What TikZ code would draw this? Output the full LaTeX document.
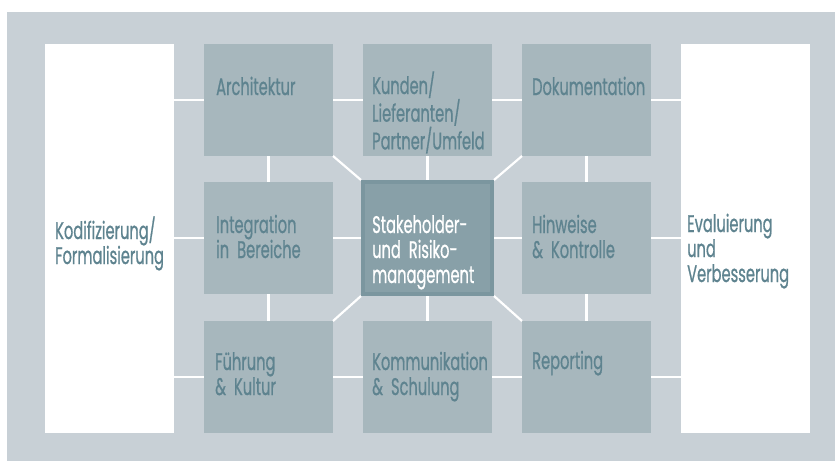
\documentclass[tikz,border=0pt]{standalone}
\usepackage{fontspec}
\setmainfont{Poppins}[FakeStretch=0.61, FakeBold=0.7]
\usepackage{tikz}
\usetikzlibrary{positioning}
\definecolor{bgGray}{RGB}{200,208,214}
\definecolor{boxGray}{RGB}{167,183,189}
\definecolor{midFill}{RGB}{136,160,168}
\definecolor{midRand}{RGB}{123,150,159}
\definecolor{txtBlau}{RGB}{94,131,143}
\begin{document}
\begin{tikzpicture}[x=1pt,y=-1pt,
	feld/.style={fill=boxGray, minimum width=129pt, minimum height=112pt, inner sep=0pt, outer sep=0pt, anchor=north west},
	seite/.style={fill=white, minimum width=129pt, minimum height=389pt, inner sep=0pt, outer sep=0pt, anchor=north west},
	mitte/.style={fill=midFill, draw=midRand, line width=4pt, minimum width=129pt, minimum height=112pt, inner sep=0pt, anchor=north west},
	txt/.style={text=txtBlau, anchor=base west, text width=130pt, align=left, inner sep=0pt, font=\fontsize{24}{25}\selectfont},
	verb/.style={draw=white, line width=2.2pt}]
				\useasboundingbox (0,0) rectangle (835,461);
				\fill[bgGray] (7,12) rectangle (835,461);
				\node[seite] (kodi) at (45,44) {};
				\node[seite] (eval) at (681,44) {};
				\node[feld] (arch) at (204,44) {};
				\node[feld] (kund) at (363,44) {};
				\node[feld] (doku) at (522,44) {};
				\node[feld] (integ) at (204,182) {};
				\node[mitte] (stake) at (361,180) {};
				\node[feld] (hinw) at (522,182) {};
				\node[feld] (fuehr) at (204,321) {};
				\node[feld] (komm) at (363,321) {};
				\node[feld] (repo) at (522,321) {};
				\draw[verb] (kodi.east |- arch.west) -- (arch.west);
				\draw[verb] (arch.east) -- (kund.west);
				\draw[verb] (kund.east) -- (doku.west);
				\draw[verb] (doku.east) -- (eval.west |- doku.east);
				\draw[verb] (kodi.east |- integ.west) -- (integ.west);
				\draw[verb] (integ.east) -- (stake.west);
				\draw[verb] (stake.east) -- (hinw.west);
				\draw[verb] (hinw.east) -- (eval.west |- hinw.east);
				\draw[verb] (kodi.east |- fuehr.west) -- (fuehr.west);
				\draw[verb] (fuehr.east) -- (komm.west);
				\draw[verb] (komm.east) -- (repo.west);
				\draw[verb] (repo.east) -- (eval.west |- repo.east);
				\draw[verb] (arch.south) -- (integ.north);
				\draw[verb] (integ.south) -- (fuehr.north);
				\draw[verb] (kund.south) -- (stake.north);
				\draw[verb] (stake.south) -- (komm.north);
				\draw[verb] (doku.south) -- (hinw.north);
				\draw[verb] (hinw.south) -- (repo.north);
				\draw[verb] (arch.south east) -- (stake.north west);
				\draw[verb] (doku.south west) -- (stake.north east);
				\draw[verb] (fuehr.north east) -- (stake.south west);
				\draw[verb] (repo.north west) -- (stake.south east);
				\node[txt] (tKodi) at ([shift={(10,195)}]kodi.north west) {Kodifizierung/\\Formalisierung};
				\node[txt] (tEval) at ([shift={(6,188)}]eval.north west) {Evaluierung\\und\\Verbesserung};
				\node[txt] (tArch) at ([shift={(12,51)}]arch.north west) {Architektur};
				\node[txt] (tKund) at ([shift={(9,50)}]kund.north west) {Kunden/\\Lieferanten/\\Partner/Umfeld};
				\node[txt] (tDoku) at ([shift={(10,51)}]doku.north west) {Dokumentation};
				\node[txt] (tInteg) at ([shift={(12,51)}]integ.north west) {Integration\\in Bereiche};
				\node[txt, text=white] (tStake) at ([shift={(11,53)}]stake.north west) {Stakeholder-\\und Risiko-\\management};
				\node[txt] (tHinw) at ([shift={(10,51)}]hinw.north west) {Hinweise\\\& Kontrolle};
				\node[txt] (tFuehr) at ([shift={(11,49)}]fuehr.north west) {Führung\\\& Kultur};
				\node[txt] (tKomm) at ([shift={(9,49)}]komm.north west) {Kommunikation\\\& Schulung};
				\node[txt] (tRepo) at ([shift={(10,48)}]repo.north west) {Reporting};
\end{tikzpicture}
\end{document}
